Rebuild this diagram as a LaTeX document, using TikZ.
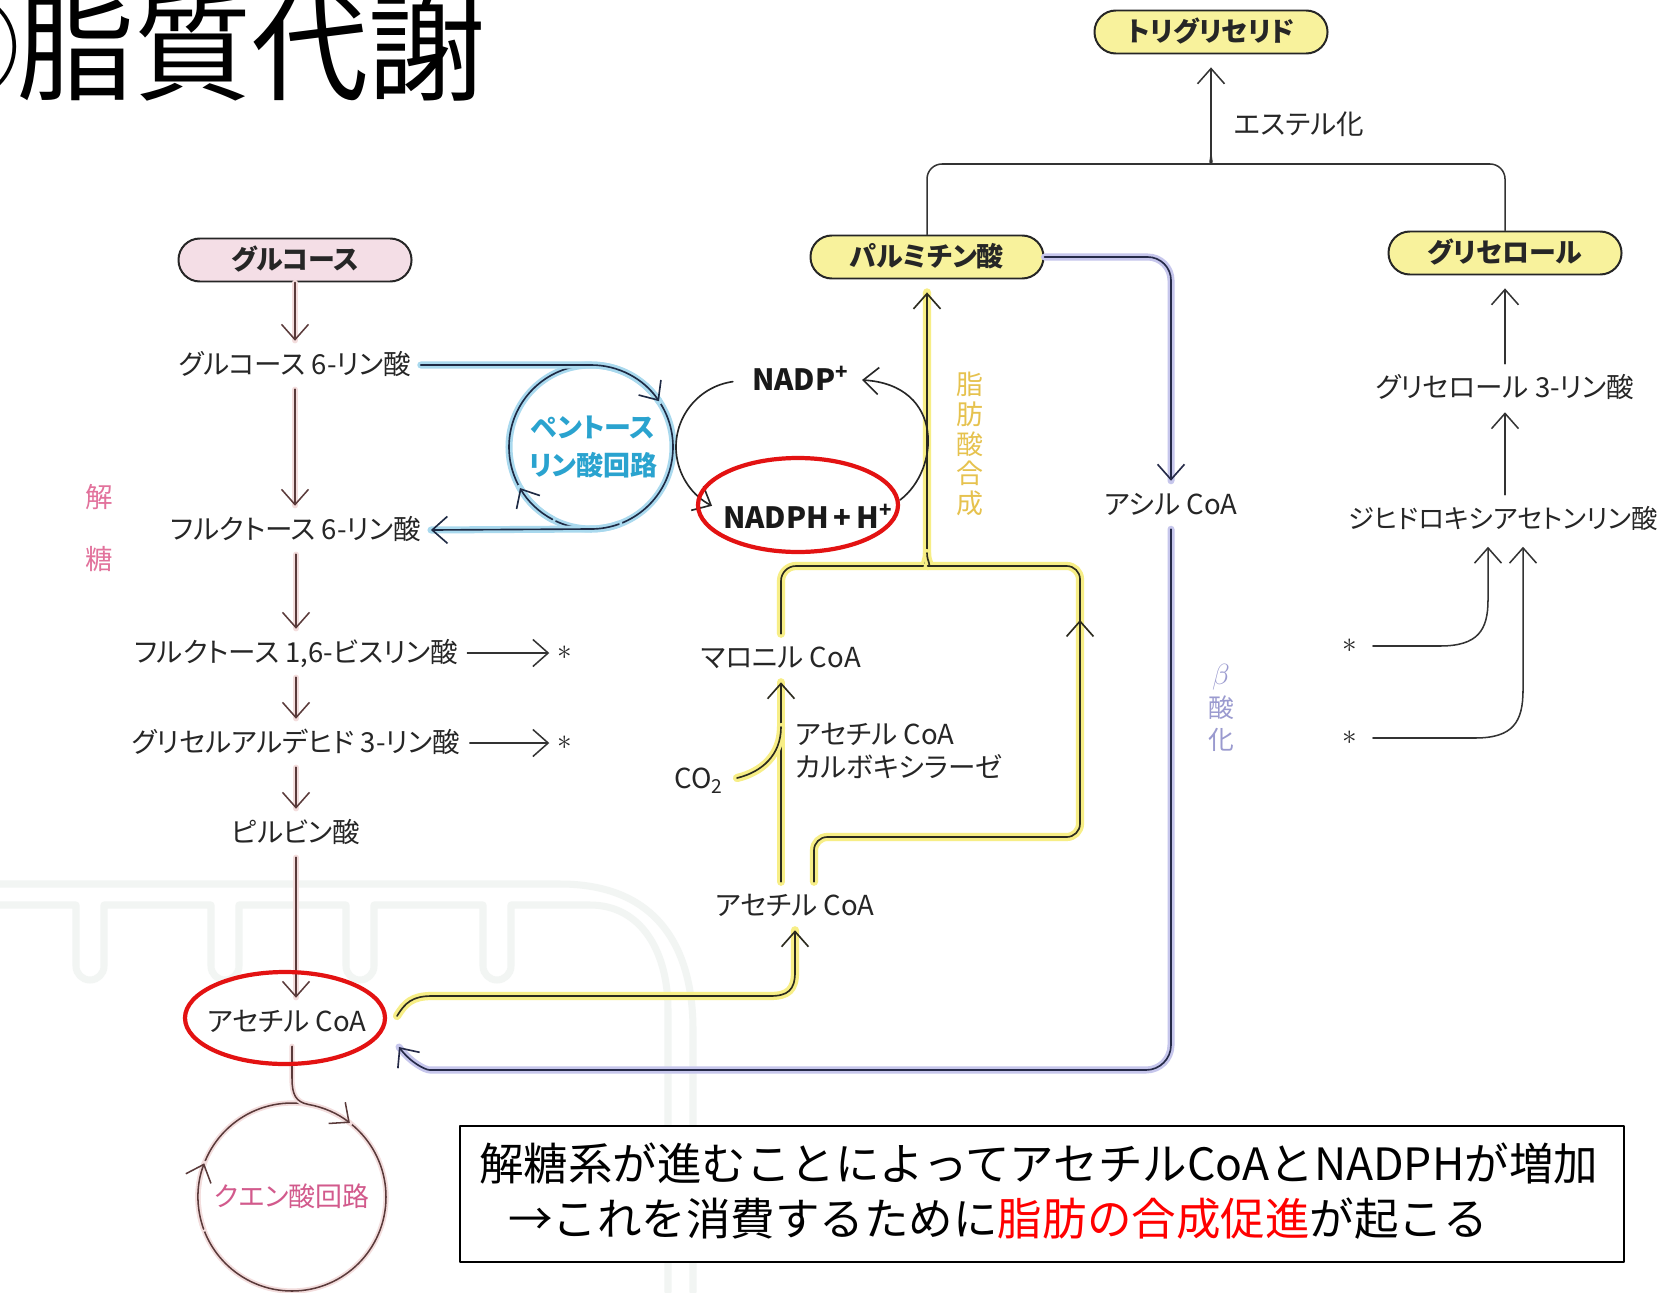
\documentclass[tikz,border=0pt]{standalone}
\usepackage{fontspec}
\setmainfont{Noto Sans CJK JP}[RawFeature=+palt]
\newfontfamily\titlefont{Noto Sans CJK JP}
\usetikzlibrary{arrows.meta,calc}

\definecolor{txt}{HTML}{262626}
\definecolor{glyline}{HTML}{5A3A3A}
\definecolor{glyhalo}{HTML}{F3DDDD}
\definecolor{ppline}{HTML}{1E2A44}
\definecolor{pphalo}{HTML}{A9D9EE}
\definecolor{pptxt}{HTML}{2AA3CF}
\definecolor{ylline}{HTML}{2B2A1E}
\definecolor{ylhalo}{HTML}{F7EE86}
\definecolor{yltxt}{HTML}{E6C24E}
\definecolor{bxline}{HTML}{252A48}
\definecolor{bxhalo}{HTML}{C6C6EC}
\definecolor{bxtxt}{HTML}{9A9ACF}
\definecolor{tcatxt}{HTML}{D25A8C}
\definecolor{glytxt}{HTML}{E2729C}
\definecolor{pinkfill}{HTML}{F4DEE6}
\definecolor{yelfill}{HTML}{F8F29C}
\definecolor{mito}{HTML}{F2F5F3}
\definecolor{hlred}{HTML}{E31212}

\begin{document}
\begin{tikzpicture}[x=0.03cm, y=-0.03cm,
  >={Straight Barb[length=13pt,width=23pt]},
  line cap=round, line join=round,
  lbl/.style={font=\fontsize{23.5}{27}\selectfont, text=txt, text height=20pt, text depth=3pt, inner xsep=8pt, inner ysep=9pt},
  pill/.style={draw=black!85, line width=1.7pt, rounded corners=0.64cm, minimum width=6.99cm, minimum height=1.29cm,
    font=\fontsize{23}{26}\selectfont\bfseries, text=txt, text height=20pt, text depth=3pt, inner sep=0pt},
  title/.style={font=\titlefont\fontsize{100}{112}\selectfont, text=black, inner sep=0pt},
  glyc/.style={draw=glyline, line width=1.3pt, preaction={draw=glyhalo, line width=4.5pt, -}},
  pp/.style={draw=ppline, line width=1.4pt, preaction={draw=pphalo, line width=6pt, -}},
  yl/.style={draw=ylline, line width=1.4pt, preaction={draw=ylhalo, line width=7pt, -}},
  bx/.style={draw=bxline, line width=1.4pt, preaction={draw=bxhalo, line width=6pt, -}},
  nad/.style={draw=black!85, line width=1.4pt},
  blk/.style={draw=black!80, line width=1.3pt},
  hl/.style={draw=hlred, line width=3.6pt},
  star/.style={font=\fontsize{24}{26}\selectfont, text=txt, inner sep=0pt},
  vlab/.style={align=center, inner sep=0pt},
  nadtxt/.style={font=\fontsize{25}{28}\selectfont\bfseries, text=black!90, inner sep=0pt, anchor=base west},
  boxtxt/.style={font=\titlefont\fontsize{38}{44}\selectfont, text=black, inner sep=0pt, anchor=base west}
]
\useasboundingbox (0,0) rectangle (1661,1292);
\fill[white] (0,0) rectangle (1661,1292);

% faint mitochondrion in the background
\begin{scope}[draw=mito, line width=6pt]
  \draw (0,884) -- (560,884) .. controls (655,884) and (693,945) .. (693,1030) -- (693,1292);
  \draw (0,905) -- (76,905) -- (76,966) arc[start angle=180,end angle=0,radius=14] -- (104,905)
        -- (211,905) -- (211,966) arc[start angle=180,end angle=0,radius=14] -- (239,905)
        -- (346,905) -- (346,966) arc[start angle=180,end angle=0,radius=14] -- (374,905)
        -- (483,905) -- (483,966) arc[start angle=180,end angle=0,radius=14] -- (511,905)
        -- (590,905) .. controls (640,905) and (668,950) .. (668,1010) -- (668,1292);
\end{scope}

% title
\node[title, anchor=base east] (tnum) at (21,92) {①};
\node[title, anchor=base west] (ttl) at (17,92) {脂質代謝};

% glycolysis
\node[pill, fill=pinkfill] (glc) at (295,260) {グルコース};
\node[lbl] (g6p) at (295,365) {グルコース 6-リン酸};
\node[lbl] (f6p) at (296,530) {フルクトース 6-リン酸};
\node[lbl] (f16) at (296,653) {フルクトース 1,6-ビスリン酸};
\node[lbl] (gap) at (296,743) {グリセルアルデヒド 3-リン酸};
\node[lbl] (pyr) at (296,833) {ピルビン酸};
\node[lbl] (acm) at (287,1022) {アセチル CoA};
\coordinate (tcac) at (292,1197);
\node[lbl, text=tcatxt, font=\fontsize{23}{26}\selectfont] (tca) at (tcac) {クエン酸回路};
\node[star] (st1) at (565,653) {$\ast$};
\node[star] (st2) at (565,743) {$\ast$};
\node[lbl, text=glytxt] (kai) at (99,498) {解};
\node[lbl, text=glytxt] (tou) at (99,560) {糖};

\draw[glyc,->] (glc.south) -- (glc.south |- g6p.north);
\draw[glyc,->] (g6p.south) -- (g6p.south |- f6p.north);
\draw[glyc,->] (f6p.south) -- (f6p.south |- f16.north);
\draw[glyc,->] (f16.south) -- (f16.south |- gap.north);
\draw[glyc,->] (gap.south) -- (gap.south |- pyr.north);
\draw[glyc,->] (pyr.south) -- (pyr.south |- acm.north);
\draw[blk,->,shorten >=7pt] (f16.east) -- (st1.west);
\draw[blk,->,shorten >=7pt] (gap.east) -- (st2.west);

% citric acid cycle
\draw[glyc] (tcac) circle[radius=94];
\draw[glyc,->] ($(tcac)+(160:94)$) arc[start angle=160,end angle=201,radius=94];
\draw[glyc,->] (acm.south -| tcac) -- ++(0,32) .. controls (292,1095) and (296,1102) .. ($(tcac)+(280:94)$)
  arc[start angle=280,end angle=308,radius=94];

% pentose phosphate pathway
\coordinate (ppc) at (591,447);
\draw[pp] (ppc) circle[radius=82];
\draw[pp,->] ($(ppc)+(118:82)$) arc[start angle=118,end angle=150,radius=82];
\draw[pp,->] (g6p.east) -- (ppc |- g6p.east) arc[start angle=270,end angle=326,radius=82];
\draw[pp,->] ($(ppc)+(70:82)$) arc[start angle=70,end angle=90,radius=82] -- (f6p.east);
\node[vlab, text=pptxt, font=\fontsize{23}{32}\selectfont\bfseries] (ppp) at (593,447) {ペントース\\リン酸回路};

% fatty acid synthesis
\node[pill, fill=yelfill] (palm) at (927,257) {パルミチン酸};
\node[lbl] (mal) at (781,658) {マロニル CoA};
\node[lbl] (acc) at (795,906) {アセチル CoA};
\node[lbl, anchor=east, inner xsep=3pt] (co2) at (727,779) {CO\textsubscript{2}};
\coordinate (co2in) at (737,778);
\node[lbl, anchor=west, inner xsep=0pt] (enz1) at (795,735) {アセチル CoA};
\node[lbl, anchor=west, inner xsep=0pt] (enz2) at (795,768) {カルボキシラーゼ};
\node[vlab, text=yltxt, font=\fontsize{23}{25.5}\selectfont] (fas) at (970,444) {脂\\肪\\酸\\合\\成};

\draw[yl,->] (acc.north -| mal.south) -- (mal.south);
\draw[yl] (co2in) .. controls (762,772) and (781,755) .. (781,727);
\draw[yl,->,shorten >=11pt] [rounded corners=0.45cm] (mal.north) -- (781,566) -- (913,566)
  [sharp corners] .. controls (922,566) and (927,562) .. (927,553) -- (palm.south);
\draw[yl] [rounded corners=0.4cm] ($(acc.north)+(19,0)$) -- (814,837) -- (1080,837) -- (1080,566) -- (941,566)
  [sharp corners] .. controls (932,566) and (927,562) .. (927,553);
\draw[draw=ylline, line width=1.4pt, ->] (1080,700) -- (1080,620);
\coordinate (acmout) at (397,1016);
\draw[yl,->] (acmout) .. controls (405,1003) and (412,996) .. (432,996) -- (770,996)
  .. controls (788,996) and (795,990) .. (795,972) -- (acc.south);

% NADP+ / NADPH
\node[nadtxt] (nadp) at (752,390) {NADP\textsuperscript{+}};
\node[nadtxt] (nadph) at (723,528) {NADPH\,+\,H\textsuperscript{+}};
\coordinate (nlc) at (742,447);
\draw[nad,->] ($(nlc)+(262:66)$) arc[start angle=262,end angle=117,radius=66];
\coordinate (nadphout) at (900,500);
\coordinate (nadpin) at (862,380);
\draw[nad,->] (nadphout) .. controls (940,470) and (945,385) .. (nadpin);

% beta oxidation
\node[lbl] (acy) at (1171,505) {アシル CoA};
\node[vlab, text=bxtxt, font=\fontsize{22}{28}\selectfont] (box) at (1221,708) {{\fontsize{28}{28}\selectfont$\beta$}\\酸\\化};
\draw[bx,->] [rounded corners=0.7cm] (palm.east) -- (1171,257) -- (acy.north);
\coordinate (acmin) at (399,1047);
\draw[bx,->] [rounded corners=0.75cm] (acy.south) -- (1171,1070) -- (455,1070)
  [sharp corners] .. controls (425,1070) and (410,1062) .. (acmin);

% triglyceride assembly
\node[pill, fill=yelfill] (tg) at (1211,32) {トリグリセリド};
\node[pill, fill=yelfill] (gly) at (1505,253) {グリセロール};
\node[lbl, anchor=west, inner xsep=0pt] (est) at (1234,125) {エステル化};
\node[lbl] (g3p) at (1505,388) {グリセロール 3-リン酸};
\node[lbl, font=\fontsize{22.5}{27}\selectfont] (dhap) at (1503,519) {ジヒドロキシアセトンリン酸};
\node[star] (st3) at (1350,646) {$\ast$};
\node[star] (st4) at (1350,738) {$\ast$};
\coordinate (tgj) at (1211,155);
\draw[blk] [rounded corners=0.45cm] (palm.north) -- (927,164) -- (1200,164)
  [sharp corners] .. controls (1207,164) and (1211,161) .. (tgj);
\draw[blk] [rounded corners=0.45cm] (gly.north) -- (1505,164) -- (1222,164)
  [sharp corners] .. controls (1215,164) and (1211,161) .. (tgj);
\draw[blk,->,shorten >=11pt] (tgj) -- (tg.south);
\draw[blk,->,shorten >=11pt] (g3p.north) -- (gly.south);
\draw[blk,->] (dhap.north -| g3p.south) -- (g3p.south);
\coordinate (v3) at (1488,600);
\coordinate (v4) at (1523,690);
\draw[blk,->,shorten <=13pt,shorten >=3pt] (st3.east) -- (1440,646) .. controls (1478,646) and (1488,630) .. (v3) -- (v3 |- dhap.south);
\draw[blk,->,shorten <=13pt,shorten >=3pt] (st4.east) -- (1475,738) .. controls (1513,738) and (1523,722) .. (v4) -- (v4 |- dhap.south);

% highlights
\draw[hl] (798,505) ellipse[x radius=100, y radius=47];
\draw[hl] (285,1018) ellipse[x radius=100, y radius=46];

% note box
\node[draw=black, line width=1.6pt, fill=white, anchor=north west, minimum width=34.92cm, minimum height=4.08cm, inner sep=0pt] (note) at (459,1125) {};
\node[boxtxt] (line1) at (479,1180) {解糖系が進むことによってアセチルCoAとNADPHが増加};
\node[boxtxt] (line2) at (508,1235) {→これを消費するために\textcolor{red}{脂肪の合成促進}が起こる};
\end{tikzpicture}
\end{document}
